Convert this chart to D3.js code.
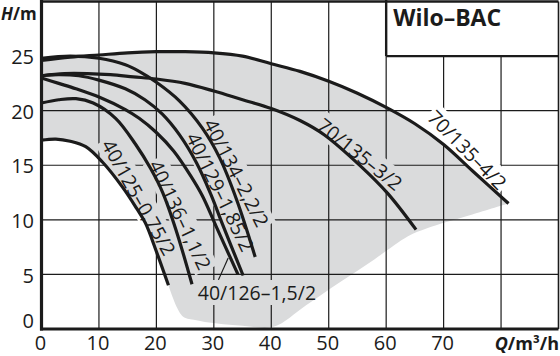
<!DOCTYPE html>
<html><head><meta charset="utf-8">
<script src="https://cdn.jsdelivr.net/npm/d3@7"></script>
<style>
html,body{margin:0;padding:0;background:#fff;}
svg{display:block;font-family:"Open Sans",sans-serif;}
</style></head>
<body>
<svg id="chart" width="560" height="356"></svg>
<script>
// ---------- data ----------
const qTicks = [0,10,20,30,40,50,60,70];
const qGrid = [10,20,30,40,50,60,70,80];
const hTicks = [0,5,10,15,20,25];
const hGrid = [5,10,15,20];

const seriesNames = ["40/125–0,75/2","40/136–1,1/2","40/126–1,5/2","40/129–1,85/2","40/134–2,2/2","70/135–3/2","70/135–4/2"];

const c40_125 = [[0,17.3],[2.5,17.4],[5,17.2],[7.7,16.7],[10.6,15.3],[14.1,13.0],[16.5,11.1],[18.1,9.7],[20,7.1],[22.1,4.0]];
const c40_136 = [[0,20.7],[3,21.0],[6,21.1],[9,20.7],[12.9,19.3],[16.4,16.9],[19,14.7],[21.1,12.5],[23.4,9.1],[26.2,4.1]];
const c40_126 = [[0,23.0],[3,22.5],[6,22.0],[10.2,21.2],[14.6,20.1],[17,19.3],[20,18.0],[23,16.3],[26,14.0],[28,12.2],[30.4,9.4],[34.2,5.0]];
const c40_129 = [[0,23.2],[3,23.3],[6.5,23.2],[10,22.8],[14.6,22.0],[18,21.0],[21,19.7],[24,17.8],[27,15.2],[29.5,12.3],[31.5,9.6],[35.1,4.9]];
const c40_134 = [[0,24.8],[5,25.0],[10,24.8],[14.6,24.2],[17,23.6],[20,22.6],[24,20.9],[28,18.4],[31,15.7],[34,11.8],[37.2,6.6]];
const c70_3 = [[0,23.2],[4,23.4],[8,23.4],[12,23.3],[16,23.1],[20,22.9],[25,22.5],[30,21.8],[35,21.0],[40,20.2],[45,19.1],[49.2,17.8],[55.6,14.9],[60.3,12.4],[65.2,9.1]];
const c70_4 = [[0,24.6],[5,24.9],[10,25.1],[15,25.3],[20,25.4],[25,25.4],[30,25.3],[35,25.0],[40,24.3],[45,23.6],[50,22.7],[55,21.6],[60,20.3],[65,18.8],[70,16.9],[75,14.5],[81.3,11.5]];
const curves = [c40_125,c40_136,c40_126,c40_129,c40_134,c70_3,c70_4];

// lower/right edge of the operating range (from end of top curve down to end of smallest curve)
const rangeEdge = [[81.3,11.5],[75,10.5],[70.5,9.8],[67,9.2],[63.8,8.5],[58,6.4],[52,4.3],[46,2.15],[40.4,0.2],[35,0.3],[30.6,0.5],[26.5,0.85],[24.5,1.2],[22.1,4.0]];

// label anchors [Q, H, angle]
const labelAnchors = [[16.9,12.05,60.6],[24.1,10.44,64.6],[37.5,3.3,0],[31.1,12.55,64],[33.9,14.3,62.8],[55.4,16.0,38.7],[74.1,16.4,45.3]];
const leader = [[30.8,4.5],[32.5,6.5]];

// ---------- layout ----------
const svg = d3.select("#chart");
const x = d3.scaleLinear().domain([0,90]).range([41.5,558.5]);
const y = d3.scaleLinear().domain([0,30]).range([329,1.5]);
const ink = "#1b1b1b";

const line = d3.line().x(d=>x(d[0])).y(d=>y(d[1])).curve(d3.curveCatmullRom.alpha(0.5));

// gray operating area
const rev125 = c40_125.slice().reverse();
const areaPath = line(c70_4) + line(rangeEdge).replace(/^M/,"L") + line(rev125).replace(/^M/,"L") + "Z";
svg.append("path").attr("d",areaPath).attr("fill","#dadbdc");

// mask for grid (knock out around labels)
const defs = svg.append("defs");
const mask = defs.append("mask").attr("id","gm").attr("maskUnits","userSpaceOnUse")
  .attr("x",0).attr("y",0).attr("width",560).attr("height",356);
mask.append("rect").attr("width",560).attr("height",356).attr("fill","#fff");

const grid = svg.append("g").attr("mask","url(#gm)").attr("stroke",ink).attr("stroke-width",1.2);
grid.selectAll("line.v").data(qGrid).join("line")
  .attr("x1",d=>x(d)).attr("x2",d=>x(d)).attr("y1",y(30)).attr("y2",y(0));
grid.selectAll("line.h").data(hGrid).join("line").attr("class","h")
  .attr("x1",x(0)).attr("x2",x(90)).attr("y1",d=>y(d)).attr("y2",d=>y(d));

// curves
svg.append("g").selectAll("path").data(curves).join("path")
  .attr("d",d=>line(d)).attr("fill","none").attr("stroke",ink).attr("stroke-width",3.2);

// leader line
svg.append("line").attr("x1",x(leader[0][0])).attr("y1",y(leader[0][1]))
  .attr("x2",x(leader[1][0])).attr("y2",y(leader[1][1])).attr("stroke",ink).attr("stroke-width",1.2);

// curve labels
const lab = svg.append("g").selectAll("text").data(seriesNames).join("text")
  .attr("transform",(d,i)=>`translate(${x(labelAnchors[i][0])},${y(labelAnchors[i][1])}) rotate(${labelAnchors[i][2]})`)
  .attr("text-anchor","middle").attr("dy","0.36em")
  .attr("font-size",19.5).attr("fill",ink).text(d=>d);
lab.each(function(d,i){
  const b = this.getBBox();
  mask.append("rect").attr("x",b.x-2).attr("y",b.y+1).attr("width",b.width+4).attr("height",b.height-2)
    .attr("fill","#000")
    .attr("transform",`translate(${x(labelAnchors[i][0])},${y(labelAnchors[i][1])}) rotate(${labelAnchors[i][2]})`);
});

// title box
svg.append("rect").attr("x",x(60)).attr("y",0).attr("width",x(90)-x(60)+2).attr("height",y(25)).attr("fill","#fff");
svg.append("line").attr("x1",x(60)).attr("x2",x(60)).attr("y1",0).attr("y2",y(25)).attr("stroke",ink).attr("stroke-width",2.4);
svg.append("line").attr("x1",x(60)).attr("x2",x(90)).attr("y1",y(25)).attr("y2",y(25)).attr("stroke",ink).attr("stroke-width",2.4);
svg.append("text").attr("x",x(60)+7).attr("y",26).attr("font-weight",700).attr("font-size",23).attr("fill",ink).text("Wilo–BAC");

// frame
svg.append("line").attr("x1",x(0)).attr("x2",x(90)).attr("y1",y(30)).attr("y2",y(30)).attr("stroke",ink).attr("stroke-width",2.6);
svg.append("line").attr("x1",x(90)).attr("x2",x(90)).attr("y1",y(30)).attr("y2",y(0)).attr("stroke",ink).attr("stroke-width",1.6);
svg.append("line").attr("x1",x(0)).attr("x2",x(0)).attr("y1",0).attr("y2",y(0)+1.5).attr("stroke",ink).attr("stroke-width",3.2);
svg.append("line").attr("x1",x(0)-1.5).attr("x2",x(90)).attr("y1",y(0)).attr("y2",y(0)).attr("stroke",ink).attr("stroke-width",3.2);

// tick labels
svg.append("g").selectAll("text").data(hTicks).join("text")
  .attr("x",34).attr("y",d=>d===0? y(d)-8 : y(d)+1).attr("dy","0.36em")
  .attr("text-anchor","end").attr("font-size",20).attr("fill",ink).text(d=>d);
svg.append("g").selectAll("text").data(qTicks).join("text")
  .attr("x",d=>x(d)-1).attr("y",350)
  .attr("text-anchor","middle").attr("font-size",20).attr("fill",ink).text(d=>d);

// axis titles
const ht = svg.append("text").attr("x",1).attr("y",20).attr("font-size",17).attr("font-weight",700).attr("fill",ink);
ht.append("tspan").attr("font-style","italic").text("H");
ht.append("tspan").text("/m");
const qt = svg.append("text").attr("x",559).attr("y",350).attr("text-anchor","end").attr("font-size",18).attr("font-weight",700).attr("fill",ink);
qt.append("tspan").attr("font-style","italic").text("Q");
qt.append("tspan").text("/m³/h");
</script>
</body></html>
